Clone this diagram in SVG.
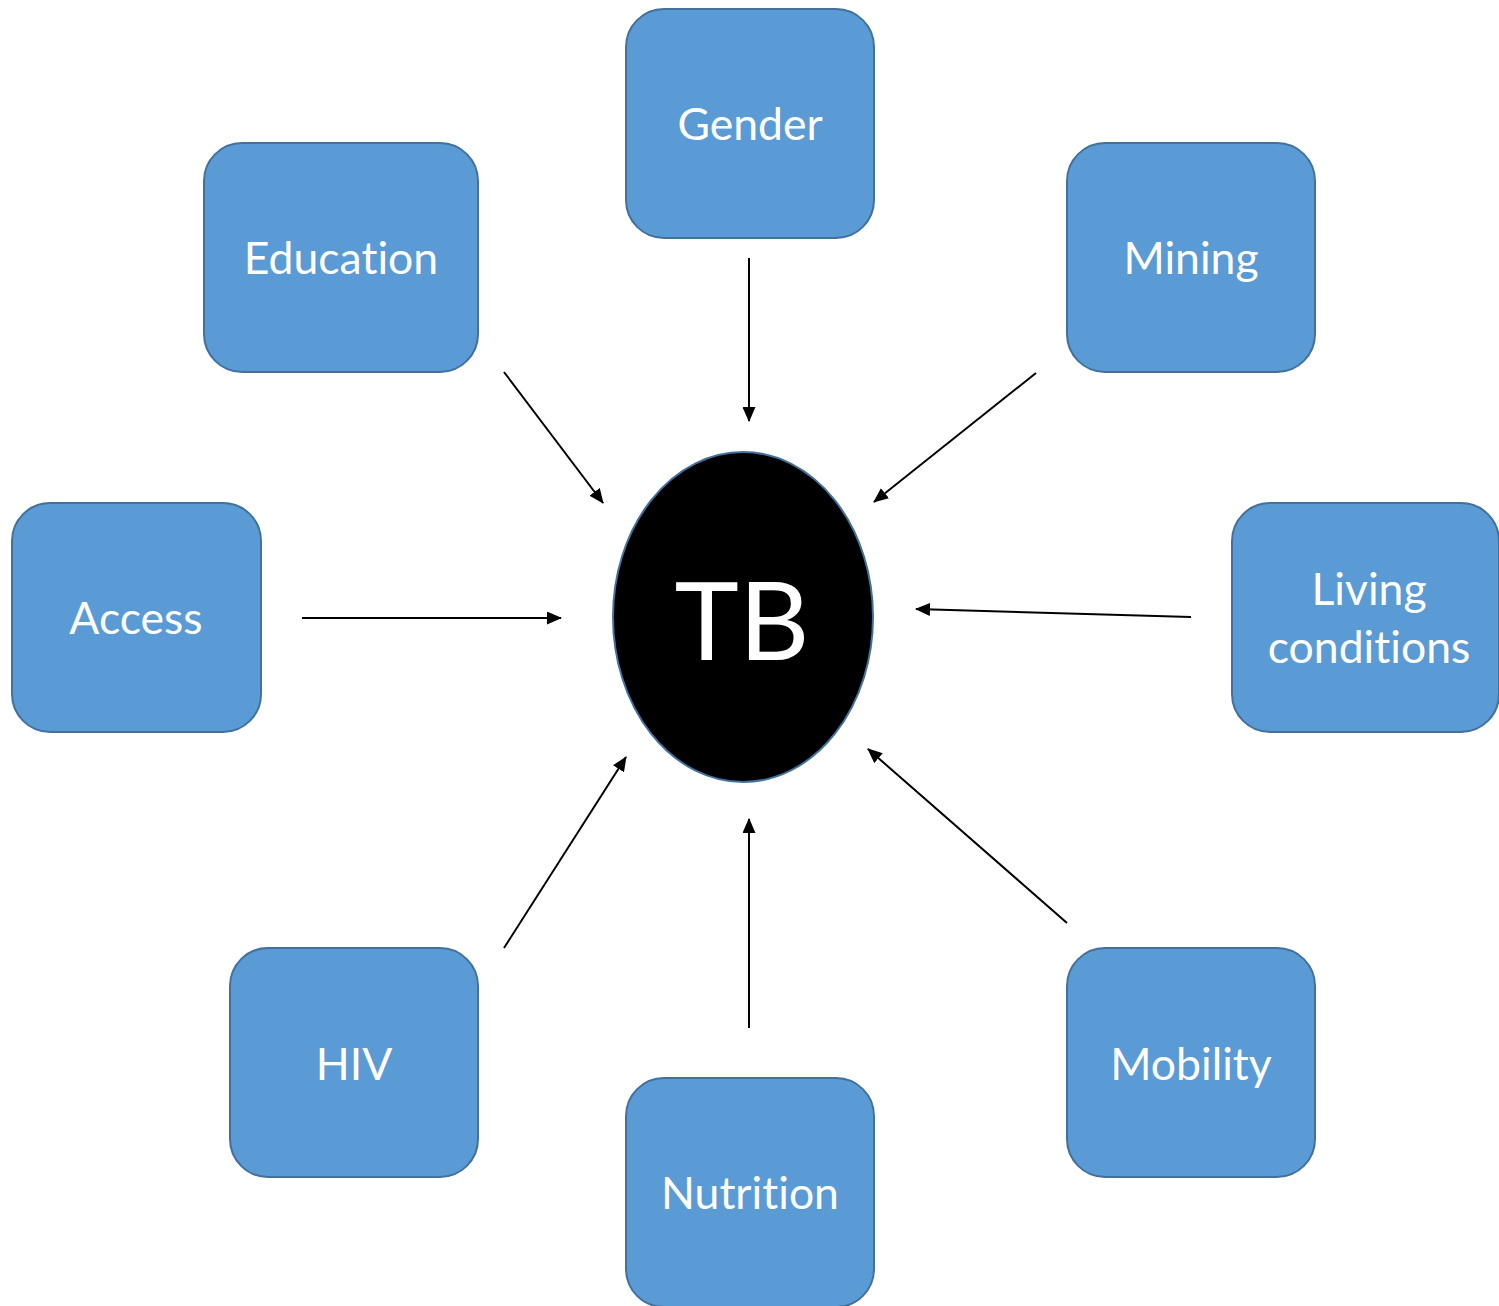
<svg xmlns="http://www.w3.org/2000/svg" width="1499" height="1306" viewBox="0 0 1499 1306">
<defs>
<marker id="ah" markerUnits="userSpaceOnUse" markerWidth="15" markerHeight="13" viewBox="0 0 15 13" refX="14" refY="6.5" orient="auto">
<path d="M0,0 L15,6.5 L0,13 Z" fill="#000"/>
</marker>
</defs>
<style>
.box{fill:#5B9BD5;stroke:#41719C;stroke-width:2}
.lbl{fill:#fff;font-family:Lato,"Open Sans","Liberation Sans",sans-serif;font-size:44.5px;text-anchor:middle;font-variant-ligatures:none;font-feature-settings:"liga" 0,"clig" 0}
.con line{stroke:#000;stroke-width:2;marker-end:url(#ah)}
</style>
<rect width="1499" height="1306" fill="#fff"/>
<g id="gender"><rect class="box" x="626" y="9" width="248" height="229" rx="38"/><text class="lbl" x="750" y="140">Gender</text></g>
<g id="education"><rect class="box" x="204" y="143" width="274" height="229" rx="38"/><text class="lbl" x="341" y="274">Education</text></g>
<g id="mining"><rect class="box" x="1067" y="143" width="248" height="229" rx="38"/><text class="lbl" x="1191" y="274">Mining</text></g>
<g id="access"><rect class="box" x="12" y="503" width="249" height="229" rx="38"/><text class="lbl" x="136" y="634">Access</text></g>
<g id="living"><rect class="box" x="1232" y="503" width="267" height="229" rx="38"/><text class="lbl" x="1369" y="605">Living</text><text class="lbl" x="1369" y="663">conditions</text></g>
<g id="hiv"><rect class="box" x="230" y="948" width="248" height="229" rx="38"/><text class="lbl" x="354" y="1080">HIV</text></g>
<g id="nutrition"><rect class="box" x="626" y="1078" width="248" height="229" rx="38"/><text class="lbl" x="750" y="1209">Nutrition</text></g>
<g id="mobility"><rect class="box" x="1067" y="948" width="248" height="229" rx="38"/><text class="lbl" x="1191" y="1080">Mobility</text></g>
<g id="tb"><ellipse cx="743" cy="617" rx="130" ry="165" fill="#000" stroke="#41719C" stroke-width="2"/><text x="742" y="660" fill="#fff" font-family="Lato,'Open Sans','Liberation Sans',sans-serif" font-size="109" text-anchor="middle">TB</text></g>
<g class="con" id="connectors">
<line x1="749" y1="258" x2="749" y2="421"/>
<line x1="504" y1="372" x2="603" y2="503"/>
<line x1="1036" y1="373" x2="874" y2="502"/>
<line x1="302" y1="618" x2="561" y2="618"/>
<line x1="1191" y1="617" x2="916" y2="609"/>
<line x1="504" y1="948" x2="626" y2="757"/>
<line x1="749" y1="1028" x2="749" y2="819"/>
<line x1="1067" y1="923" x2="868" y2="749"/>
</g>
</svg>
